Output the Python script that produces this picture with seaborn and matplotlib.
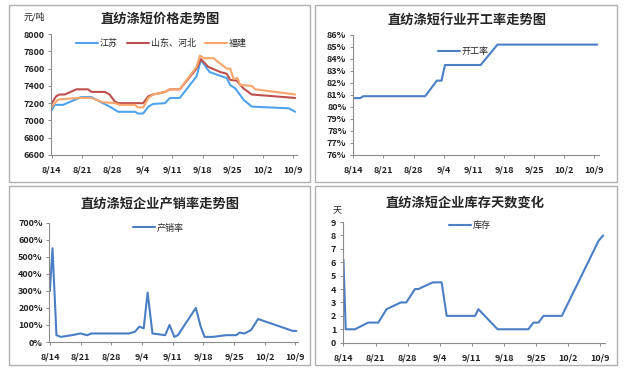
import numpy as np
import pandas as pd
import matplotlib.pyplot as plt
import seaborn as sns
from matplotlib.patches import Rectangle

# x values are days counted from 8/14
tick_days = [0, 7, 14, 21, 28, 35, 42, 49, 56]
tick_labels = ['8/14', '8/21', '8/28', '9/4', '9/11', '9/18', '9/25', '10/2', '10/9']

# price (yuan/ton)
js_day = [0, 0.6, 2.6, 6.8, 9.2, 11.1, 13.4, 15.4, 19.3, 20, 21.2, 22.4, 23.5, 26.3, 27.4, 29.7,
          33.6, 34.6, 36.6, 38.3, 40.6, 41.4, 42.6, 44.5, 46.4, 55, 56.5]
js_price = [7120, 7180, 7180, 7270, 7270, 7220, 7160, 7100, 7100, 7080, 7080, 7160, 7190, 7200, 7260, 7260,
            7510, 7700, 7560, 7530, 7490, 7410, 7370, 7240, 7160, 7140, 7100]
sd_day = [0, 1, 1.8, 3, 5.7, 8.4, 9.2, 12.3, 13.4, 14.6, 15.4, 21.2, 22.4, 23.5, 26.3, 27.4, 29.7,
          33.6, 34.6, 36.3, 39.1, 40.6, 41.4, 42.9, 44.5, 46.4, 56.5]
sd_price = [7200, 7280, 7300, 7300, 7360, 7360, 7330, 7330, 7300, 7220, 7200, 7200, 7280, 7300, 7330, 7360, 7360,
            7600, 7710, 7620, 7560, 7540, 7470, 7460, 7370, 7300, 7260]
fj_day = [0, 1.4, 3.3, 6.4, 9.2, 11.9, 14.6, 15.8, 19.3, 20, 21.2, 22.4, 23.5, 26.3, 27.4, 29.7,
          33.6, 34.4, 35.3, 37.5, 40.6, 41.4, 42.2, 43.1, 43.7, 46.4, 47.2, 56.5]
fj_price = [7160, 7240, 7250, 7260, 7260, 7210, 7200, 7180, 7180, 7150, 7150, 7260, 7300, 7330, 7360, 7360,
            7620, 7750, 7720, 7720, 7600, 7600, 7480, 7490, 7410, 7400, 7360, 7300]

# operating rate (%)
op_day = [0, 1.6, 2.3, 16.7, 19.4, 20.5, 21.3, 29.6, 33.5, 56.7]
op_rate = [80.74, 80.74, 80.9, 80.9, 82.2, 82.2, 83.5, 83.5, 85.2, 85.2]

# sales-to-output ratio (%)
ps_day = [0, 0.6, 1.5, 2.5, 5, 7, 8.5, 9.5, 18, 19.4, 20.4, 21.4, 22.3, 23.4, 26.3, 27.3, 28.4, 29.2,
          33.3, 34.4, 35.3, 37.2, 40.2, 42.5, 43.3, 44.4, 45.9, 47.5, 55.4, 56.2]
ps_rate = [300, 550, 40, 30, 40, 50, 40, 50, 50, 60, 90, 80, 290, 50, 40, 100, 30, 40,
           200, 90, 30, 30, 40, 40, 55, 50, 70, 135, 65, 65]

# inventory days
inv_day = [0, 0.5, 2.5, 5.4, 7.6, 9.4, 12.5, 13.7, 15.6, 16.3, 19.5, 21.4, 22.5, 28.7, 29.4, 33.6,
           40.3, 41.4, 42.5, 43.6, 47.6, 55.6, 56.6]
inv_days = [6.2, 1, 1, 1.5, 1.5, 2.5, 3, 3, 4, 4, 4.5, 4.5, 2, 2, 2.5, 1,
            1, 1.5, 1.5, 2, 2, 7.6, 8]

sns.set_theme(style='white')
plt.rcParams['font.family'] = ['Noto Sans CJK SC', 'DejaVu Sans']
plt.rcParams['axes.unicode_minus'] = False

W, H = 624, 370
fig = plt.figure(figsize=(W / 100, H / 100), dpi=100)


def px_axes(left, top, right, bottom):
    return fig.add_axes([left / W, 1 - bottom / H, (right - left) / W, (bottom - top) / H])


def style(ax, xlim):
    ax.set_xlim(*xlim)
    ax.set_xticks(tick_days)
    ax.set_xticklabels(tick_labels)
    for s in ['top', 'right']:
        ax.spines[s].set_visible(False)
    for s in ['left', 'bottom']:
        ax.spines[s].set_color('#8c8c8c')
        ax.spines[s].set_linewidth(0.8)
    ax.tick_params(axis='both', which='both', length=2.5, width=0.7, color='#8c8c8c',
                   labelsize=6.5, labelcolor='#222222', pad=2, direction='out',
                   bottom=True, left=True)
    ax.tick_params(axis='x', pad=5)
    for lab in ax.get_xticklabels() + ax.get_yticklabels():
        lab.set_fontweight('bold')
    ax.set_xlabel('')
    ax.set_ylabel('')


def add_legend(ax, x, y, ncol=1):
    ax.legend(loc='center', bbox_to_anchor=(x, y), ncol=ncol, frameon=False, fontsize=6.5,
              handlelength=2.4, columnspacing=1.0, handletextpad=0.25)


# panel frames
for (l, t, r, b) in [(9, 5, 310, 182), (315, 5, 617, 182), (9, 186, 310, 365), (315, 186, 617, 365)]:
    fig.patches.append(Rectangle((l / W, 1 - b / H), (r - l) / W, (b - t) / H, transform=fig.transFigure,
                                 fill=False, edgecolor='#b0b0b0', linewidth=1.0))

# top-left: prices
ax1 = px_axes(51, 34, 296.5, 155)
sns.lineplot(x=js_day, y=js_price, ax=ax1, color='#4fa3ec', lw=1.5, label='江苏', estimator=None)
sns.lineplot(x=sd_day, y=sd_price, ax=ax1, color='#c0504d', lw=1.5, label='山东、河北', estimator=None)
sns.lineplot(x=fj_day, y=fj_price, ax=ax1, color='#f9a66c', lw=1.5, label='福建', estimator=None)
ax1.set_ylim(6600, 8000)
ax1.set_yticks(np.arange(6600, 8001, 200))
style(ax1, (-0.2, 56.8))
add_legend(ax1, 0.45, 0.925, ncol=3)
fig.text(160 / W, 1 - 19 / H, '直纺涤短价格走势图', ha='center', va='center', fontsize=9.5, fontweight='bold')
fig.text(34 / W, 1 - 17 / H, '元/吨', ha='center', va='center', fontsize=6.5, color='#222222')

# top-right: operating rate
ax2 = px_axes(352.5, 35, 599, 155)
sns.lineplot(x=op_day, y=op_rate, ax=ax2, color='#4a7ec5', lw=1.5, label='开工率', estimator=None)
ax2.set_ylim(76, 86)
ax2.set_yticks(range(76, 87))
ax2.set_yticklabels([f'{v}%' for v in range(76, 87)])
style(ax2, (-0.2, 57.1))
add_legend(ax2, 0.45, 0.86)
fig.text(467 / W, 1 - 20 / H, '直纺涤短行业开工率走势图', ha='center', va='center', fontsize=9.5, fontweight='bold')

# bottom-left: sales ratio
ax3 = px_axes(49, 222.7, 298, 342)
sns.lineplot(x=ps_day, y=ps_rate, ax=ax3, color='#4a7ec5', lw=1.5, label='产销率', estimator=None)
ax3.set_ylim(0, 700)
ax3.set_yticks(range(0, 701, 100))
ax3.set_yticklabels([f'{v}%' for v in range(0, 701, 100)])
style(ax3, (-0.2, 56.6))
add_legend(ax3, 0.44, 0.955)
fig.text(160 / W, 1 - 204 / H, '直纺涤短企业产销率走势图', ha='center', va='center', fontsize=9.5, fontweight='bold')

# bottom-right: inventory days
ax4 = px_axes(342.5, 222, 605, 342.7)
sns.lineplot(x=inv_day, y=inv_days, ax=ax4, color='#4a7ec5', lw=1.5, label='库存', estimator=None)
ax4.set_ylim(0, 9)
ax4.set_yticks(range(0, 10))
style(ax4, (-0.2, 57.0))
add_legend(ax4, 0.485, 0.97)
fig.text(465 / W, 1 - 203 / H, '直纺涤短企业库存天数变化', ha='center', va='center', fontsize=9.5, fontweight='bold')
fig.text(337 / W, 1 - 211 / H, '天', ha='center', va='center', fontsize=6.5, color='#222222')

fig.savefig('out.png', dpi=100)
